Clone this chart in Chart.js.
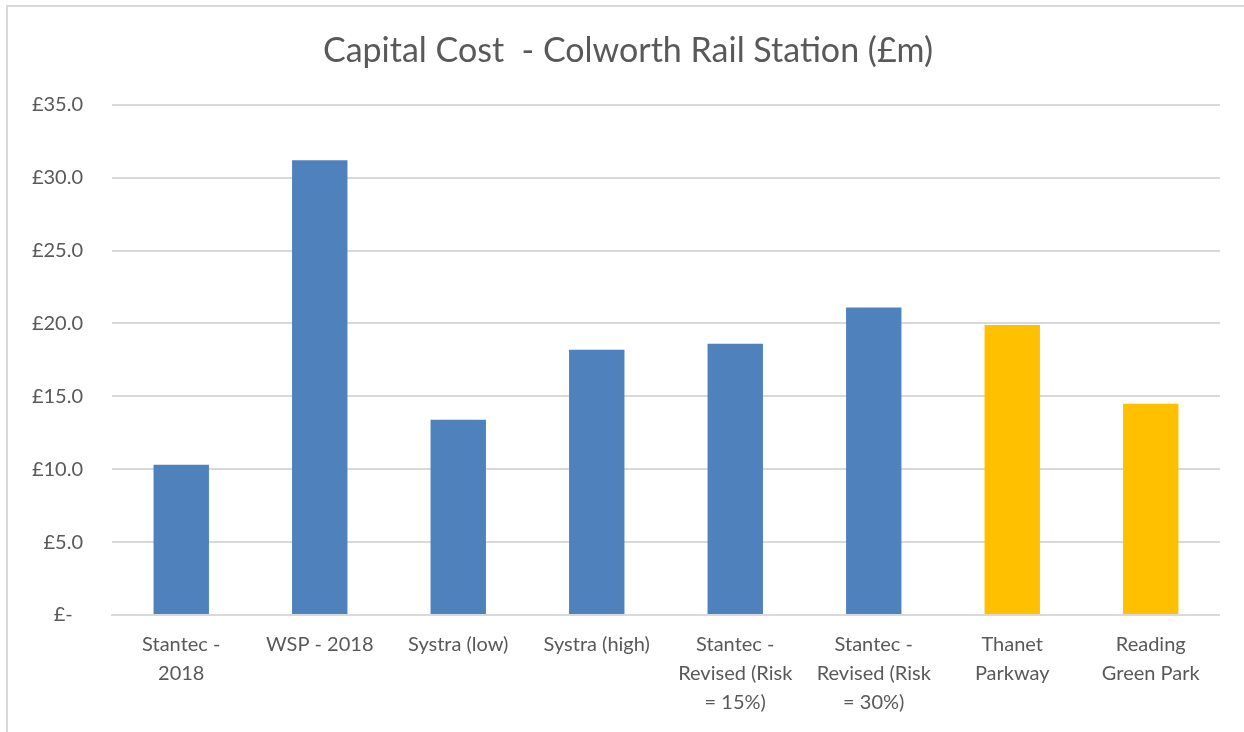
<!DOCTYPE html>
<html>
<head>
<meta charset="utf-8">
<script src="https://cdn.jsdelivr.net/npm/chart.js@4"></script>
<style>
  html, body { margin: 0; padding: 0; background: #fff; overflow: hidden; }
  #frame {
    position: absolute; left: 6px; top: 5px; width: 1240px; height: 730px;
    border-top: 2px solid #d9d9d9; border-left: 2px solid #d9d9d9;
  }
  #wrap { position: absolute; left: 0; top: 0; width: 1212px; height: 725px; }
</style>
</head>
<body>
<div id="frame"><div id="wrap"><canvas id="myChart"></canvas></div></div>
<script>
// Category labels (multi-line as in the original)
var categories = [
    ['Stantec -', '2018'],
    'WSP - 2018',
    'Systra (low)',
    'Systra (high)',
    ['Stantec -', 'Revised (Risk', '= 15%)'],
    ['Stantec -', 'Revised (Risk', '= 30%)'],
    ['Thanet', 'Parkway'],
    ['Reading', 'Green Park']
];
// Capital cost in £m
var costs = [10.3, 31.2, 13.4, 18.2, 18.6, 21.1, 19.9, 14.5];
var barColors = ['#4F81BD', '#4F81BD', '#4F81BD', '#4F81BD', '#4F81BD', '#4F81BD', '#FFC000', '#FFC000'];
var yTicks = [0, 5, 10, 15, 20, 25, 30, 35];

// nudge the title to the right so it sits centred like the original
var titleShift = {
    id: 'titleShift',
    afterLayout: function(chart) {
        if (chart.titleBlock) chart.titleBlock.left += 28;
    }
};

document.addEventListener("DOMContentLoaded", function() {
    var ctx = document.getElementById('myChart').getContext('2d');
    var textColor = '#595959';
    var font = 'Lato, "Open Sans", sans-serif';

    var myChart = new Chart(ctx, {
        type: 'bar',
        data: {
            labels: categories,
            datasets: [{
                label: 'Capital Cost',
                data: costs,
                backgroundColor: barColors,
                borderWidth: 0,
                barPercentage: 0.4,
                categoryPercentage: 1.0
            }]
        },
        plugins: [titleShift],
        options: {
            responsive: true,
            maintainAspectRatio: false,
            animation: false,
            layout: { padding: { left: 0, right: 0, top: 0, bottom: 0 } },
            plugins: {
                legend: { display: false },
                tooltip: { enabled: false },
                title: {
                    display: true,
                    text: 'Capital Cost  - Colworth Rail Station (£m)',
                    color: textColor,
                    font: { family: font, size: 34, weight: 'normal' },
                    padding: { top: 24, bottom: 33 }
                }
            },
            scales: {
                x: {
                    grid: { display: false, drawTicks: false },
                    border: { display: true, color: '#d9d9d9', width: 2 },
                    ticks: {
                        color: textColor,
                        font: { family: font, size: 20, lineHeight: 1.45 },
                        padding: 15,
                        maxRotation: 0,
                        autoSkip: false
                    }
                },
                y: {
                    min: 0,
                    max: 35,
                    afterBuildTicks: function(axis) {
                        axis.ticks = yTicks.map(function(v) { return { value: v }; });
                    },
                    afterFit: function(axis) { axis.width = 104; },
                    grid: { color: '#d9d9d9', lineWidth: 2, drawTicks: false },
                    border: { display: false },
                    ticks: {
                        color: textColor,
                        font: { family: font, size: 20 },
                        padding: 29,
                        callback: function(value) {
                            return value === 0 ? '£-  ' : '£' + value.toFixed(1);
                        }
                    }
                }
            }
        }
    });
});
</script>
</body>
</html>
